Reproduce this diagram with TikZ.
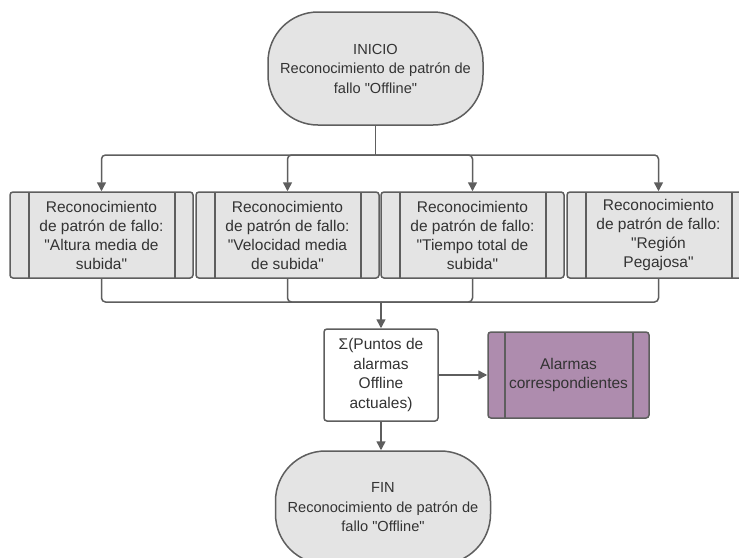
\documentclass[tikz,border=0pt]{standalone}
\usepackage{fontspec}
\setmainfont{Liberation Sans}[Ligatures=TeXOff]
\usetikzlibrary{arrows.meta}
\definecolor{edge}{HTML}{5E5E5E}
\definecolor{boxfill}{HTML}{E4E4E4}
\definecolor{alarmfill}{HTML}{AE8CAE}
\definecolor{txt}{HTML}{333333}

\begin{document}
\begin{tikzpicture}[x=1pt,y=-1pt,
  text=txt,
  terminal/.style={draw=edge, line width=1.5pt, fill=boxfill, rounded corners=50pt,
    minimum width=215pt, minimum height=113pt, align=center, inner sep=0pt,
    font=\fontsize{14.6}{19.5}\selectfont},
  sidebars/.style 2 args={path picture={
    \draw[edge, line width=1.5pt]
      ([xshift=#1]path picture bounding box.north west) -- ([xshift=#1]path picture bounding box.south west)
      ([xshift=-#2]path picture bounding box.north east) -- ([xshift=-#2]path picture bounding box.south east);}},
  procbox/.style={draw=edge, line width=1.5pt, fill=boxfill, rounded corners=3pt,
    minimum width=183pt, minimum height=86pt, align=center, inner sep=0pt, sidebars={19pt}{18pt},
    font=\fontsize{15.5}{19}\selectfont},
  sumbox/.style={draw=edge, line width=1.5pt, fill=white, rounded corners=3pt,
    minimum width=114pt, minimum height=92pt, align=center, inner sep=0pt,
    font=\fontsize{15.5}{19.5}\selectfont},
  alarmbox/.style={draw=edge, line width=1.5pt, fill=alarmfill, rounded corners=3pt,
    minimum width=161pt, minimum height=86pt, align=center, inner sep=0pt, sidebars={17pt}{16pt},
    font=\fontsize{15.5}{19.5}\selectfont},
  conn/.style={draw=edge, line width=1.5pt, rounded corners=4pt},
  arr/.style={conn, -{Triangle[length=9pt,width=9pt]}}
]
\useasboundingbox (0,0) rectangle (739,557);
\clip (0,0) rectangle (739,557);
\fill[white] (0,0) rectangle (739,557);

% start and end terminals
\node[terminal] (start) at (375.5,68.5) {INICIO\\Reconocimiento de patrón de\\fallo "Offline"};
\node[terminal] (finish) at (383,507.5) {FIN\\Reconocimiento de patrón de\\fallo "Offline"};

% pattern recognition subprocesses
\node[procbox] (p1) at (101.5,235) {Reconocimiento\\de patrón de fallo:\\"Altura media de\\subida"};
\node[procbox] (p2) at (287.5,235) {Reconocimiento\\de patrón de fallo:\\"Velocidad media\\de subida"};
\node[procbox] (p3) at (472.5,235) {Reconocimiento\\de patrón de fallo:\\"Tiempo total de\\subida"};
\node[procbox] (p4) at (658.5,235) {Reconocimiento\\de patrón de fallo:\\"Región\\Pegajosa"};

% sum of alarm points and resulting alarms
\node[sumbox] (sum) at (381,375) {Σ(Puntos de\\alarmas\\Offline\\actuales)};
\node[alarmbox] (alarm) at (568.5,375) {Alarmas\\correspondientes};

% connectors
\coordinate (split) at (375.5,155);
\coordinate (merge) at (381,302);
\draw[conn] (start.south) -- (split);
\foreach \p in {p1,p2,p3,p4} {
  \draw[arr] (split) -| (\p.north);
  \draw[conn] (\p.south) |- (merge);
}
\draw[arr] (merge) -- (sum.north);
\draw[arr] (sum.east) -- (alarm.west);
\draw[arr] (sum.south) -- (sum.south |- finish.north);
\end{tikzpicture}
\end{document}
